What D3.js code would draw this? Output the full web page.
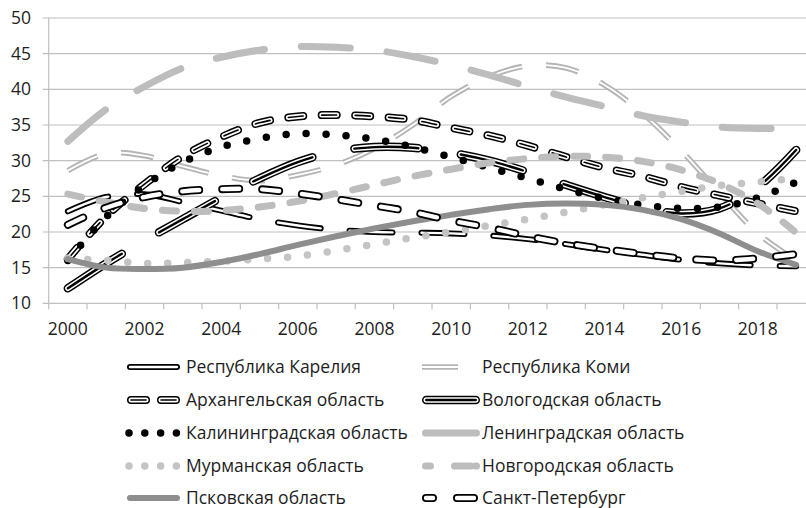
<!DOCTYPE html>
<html><head><meta charset="utf-8">
<script src="https://cdn.jsdelivr.net/npm/d3@7"></script>
<style>body{margin:0;background:#fff;overflow:hidden} text{font-family:"Open Sans",sans-serif;}</style>
</head><body><svg id="c" width="806" height="508"></svg>
<script>
const years = [2000,2001,2002,2003,2004,2005,2006,2007,2008,2009,2010,2011,2012,2013,2014,2015,2016,2017,2018,2019];
const xTickLabels = [2000,2002,2004,2006,2008,2010,2012,2014,2016,2018];
const yTicks = [10,15,20,25,30,35,40,45,50];
const seriesNames = ["Республика Карелия","Республика Коми","Архангельская область","Вологодская область","Калининградская область","Ленинградская область","Мурманская область","Новгородская область","Псковская область","Санкт-Петербург"];
const karelia   = [22.9,24.9,25.3,24.2,23.0,21.8,20.9,20.3,20.0,19.9,19.8,19.5,19.0,18.3,17.5,16.8,16.1,15.6,15.3,15.2];
const komi      = [28.6,31.0,30.7,29.2,27.9,27.2,28.0,29.4,31.7,35.0,39.0,41.8,43.3,43.0,40.6,36.6,31.4,25.5,19.8,16.0];
const arkh      = [16.2,22.2,26.7,30.6,33.3,35.3,36.2,36.4,36.2,35.7,34.6,33.5,32.1,30.5,29.0,27.8,26.3,25.1,24.0,22.9];
const vologda   = [12.1,15.6,18.8,21.8,24.8,27.5,29.8,31.3,31.9,31.8,31.1,30.0,28.4,26.6,24.9,23.4,22.6,23.3,26.3,31.5];
const kalin     = [16.0,22.1,26.5,29.8,31.9,33.1,33.8,33.6,33.0,31.9,30.5,29.0,27.5,26.0,24.7,23.8,23.3,23.5,24.8,27.0];
const lenobl    = [32.7,37.2,40.4,43.0,44.5,45.5,46.0,45.9,45.5,44.6,43.4,42.0,40.4,38.9,37.6,36.3,35.4,34.7,34.5,34.6];
const murmansk  = [16.3,16.0,15.6,15.7,15.9,16.2,16.6,17.4,18.3,19.2,20.0,20.9,21.8,22.8,23.8,24.8,25.7,26.5,27.0,27.5];
const novgorod  = [25.3,24.2,23.3,22.9,23.0,23.5,24.3,25.4,26.6,27.8,28.8,29.7,30.3,30.6,30.5,29.9,28.7,26.8,24.0,19.9];
const pskov     = [16.2,15.0,14.8,15.0,15.8,16.9,18.2,19.4,20.5,21.5,22.4,23.2,23.8,24.0,23.8,23.1,21.8,19.8,17.3,15.4];
const spb       = [21.0,23.4,24.9,25.7,26.0,26.0,25.4,24.6,23.7,22.8,21.6,20.6,19.4,18.4,17.6,16.9,16.3,16.0,16.3,16.9];

const seriesValues = [karelia,komi,arkh,vologda,kalin,lenobl,murmansk,novgorod,pskov,spb];

const styles = [
  {layers:[{c:"#000",w:6},{c:"#fff",w:2.4}], cap:"round", dash:"43,29", leg:null},
  {layers:[{c:"#b5b5b5",w:5.6},{c:"#fff",w:1.8}], cap:"butt", dash:"33,24", leg:"36,40"},
  {layers:[{c:"#000",w:8},{c:"#fff",w:5},{c:"#000",w:1.6}], cap:"round", dash:"15,18.5", leg:"15,15"},
  {layers:[{c:"#000",w:8.5},{c:"#fff",w:5.5},{c:"#000",w:2.4}], cap:"round", dash:"64,43", leg:null},
  {layers:[{c:"#000",w:7.5}], cap:"round", dash:"0,20", leg:"0,15.8"},
  {layers:[{c:"#bdbdbd",w:7}], cap:"round", dash:"49,37", leg:null},
  {layers:[{c:"#c4c4c4",w:7.5}], cap:"round", dash:"0,20", leg:"0,15.8"},
  {layers:[{c:"#bdbdbd",w:7}], cap:"round", dash:"14,18", leg:"5,24,16"},
  {layers:[{c:"#8e8e8e",w:6}], cap:"round", dash:null, leg:null},
  {layers:[{c:"#000",w:8},{c:"#fff",w:4.4}], cap:"round", dash:"17,23", leg:"7,24,17"}
];

const FS = 17.5;
const svg = d3.select("#c");
const x = d3.scaleBand().domain(years).range([48.7, 48.7 + 20*38.33]).paddingInner(0).paddingOuter(0);
const y = d3.scaleLinear().domain([10,50]).range([303.3, 18]);
const bw = x.bandwidth();
const cx = yr => x(yr) + bw/2;

svg.append("g").selectAll("line").data(yTicks).join("line")
  .attr("x1", 42.7).attr("x2", 806).attr("y1", d=>y(d)).attr("y2", d=>y(d))
  .attr("stroke", "#c0c0c0").attr("stroke-width", 1.2);
svg.append("line").attr("x1",48.7).attr("x2",48.7).attr("y1",y(50)).attr("y2",y(10))
  .attr("stroke","#c0c0c0").attr("stroke-width",1.2);
svg.append("g").selectAll("line").data(years).join("line")
  .attr("x1", d=>x(d)).attr("x2", d=>x(d)).attr("y1", y(10)).attr("y2", y(10)+6)
  .attr("stroke","#c0c0c0").attr("stroke-width",1.2);
svg.append("g").selectAll("text").data(yTicks).join("text")
  .attr("x", 31).attr("y", d=>y(d)).attr("dy","0.35em").attr("text-anchor","end")
  .attr("font-size",FS).attr("fill","#1e1e1e").text(d=>d);
svg.append("g").selectAll("text").data(xTickLabels).join("text")
  .attr("x", d=>cx(d)).attr("y", 335).attr("text-anchor","middle")
  .attr("font-size",FS).attr("fill","#1e1e1e").text(d=>d);

const line = d3.line().x((d,i)=>cx(years[i])).y(d=>y(d)).curve(d3.curveCatmullRom.alpha(0.5));

seriesValues.forEach((vals,si)=>{
  const st = styles[si];
  const g = svg.append("g");
  st.layers.forEach(L=>{
    g.append("path").attr("d", line(vals)).attr("fill","none")
      .attr("stroke", L.c).attr("stroke-width", L.w)
      .attr("stroke-linecap", st.cap).attr("stroke-linejoin","round")
      .attr("stroke-dasharray", st.dash);
  });
});

const rowsY = [367,400,433,466,498];
seriesNames.forEach((name,si)=>{
  const col = si % 2, row = Math.floor(si/2);
  const st = styles[si];
  const yy = rowsY[row];
  let x1, x2, tx;
  if (col===0){ x1=127; x2=180; tx=186; } else { x1=422; x2=480; tx=482; }
  const inset = st.cap==="round" ? st.layers[0].w/2 : 0;
  let a = x1+inset, b = x2-inset;
  if (si===4 || si===6){ a=129; b=177.5; }
  if (si===1){ a=422; b=460; }
  const g = svg.append("g");
  st.layers.forEach(L=>{
    g.append("line").attr("x1",a).attr("x2",b).attr("y1",yy).attr("y2",yy)
      .attr("stroke",L.c).attr("stroke-width",L.w).attr("stroke-linecap",st.cap)
      .attr("stroke-dasharray", st.leg);
  });
  svg.append("text").attr("x",tx).attr("y",yy).attr("dy","0.35em")
    .attr("font-size",FS).attr("fill","#1e1e1e").text(name);
});
</script></body></html>
